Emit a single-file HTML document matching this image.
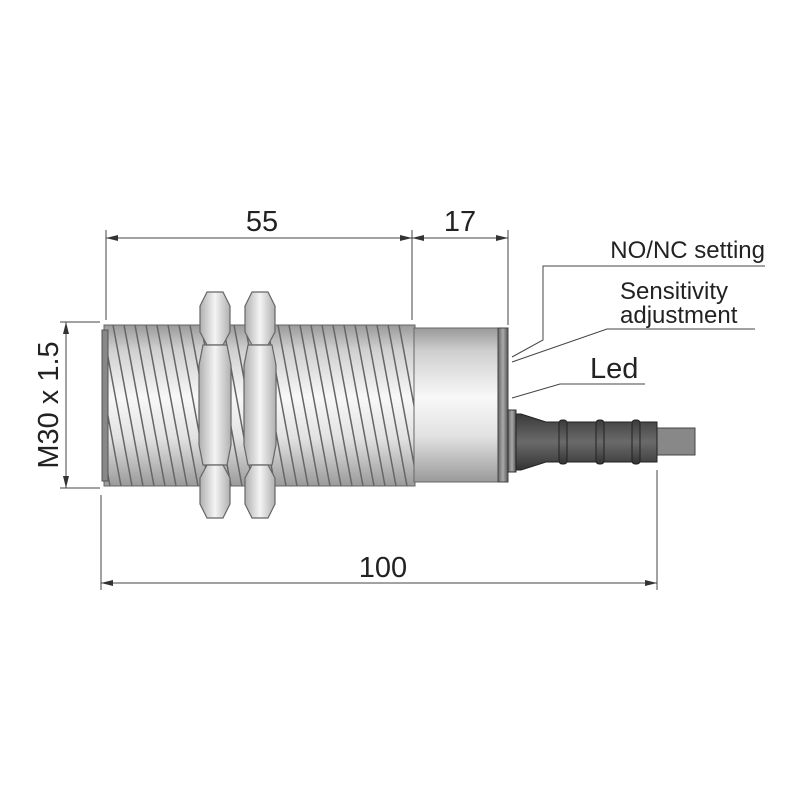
<!DOCTYPE html>
<html><head><style>body{margin:0;background:#fff}svg{display:block}</style></head><body>
<svg width="800" height="800" viewBox="0 0 800 800" xmlns="http://www.w3.org/2000/svg" font-family="Liberation Sans, sans-serif">
<defs>
<linearGradient id="cyl" x1="0" y1="0" x2="0" y2="1">
<stop offset="0" stop-color="#9a9a9a"/><stop offset="0.15" stop-color="#cfcfcf"/><stop offset="0.45" stop-color="#f8f8f8"/><stop offset="0.7" stop-color="#e2e2e2"/><stop offset="1" stop-color="#9a9a9a"/>
</linearGradient>
<linearGradient id="nut" x1="0" y1="0" x2="1" y2="0">
<stop offset="0" stop-color="#b0b0b0"/><stop offset="0.5" stop-color="#f4f4f4"/><stop offset="1" stop-color="#b0b0b0"/>
</linearGradient>
<linearGradient id="dark" x1="0" y1="0" x2="0" y2="1">
<stop offset="0" stop-color="#3a3a3a"/><stop offset="0.5" stop-color="#6a6a6a"/><stop offset="1" stop-color="#333"/>
</linearGradient>
<linearGradient id="ring" x1="0" y1="0" x2="1" y2="0">
<stop offset="0" stop-color="#666"/><stop offset="0.5" stop-color="#aaa"/><stop offset="1" stop-color="#555"/>
</linearGradient>
<clipPath id="thr"><rect x="104" y="325" width="311" height="161"/></clipPath>
</defs>
<rect x="104" y="325" width="311" height="161" fill="url(#cyl)" stroke="#666" stroke-width="1"/>
<g clip-path="url(#thr)" stroke="#666" stroke-width="1.5">
<path d="M80 325 l30 161 M91 325 l30 161 M102 325 l30 161 M113 325 l30 161 M124 325 l30 161 M135 325 l30 161 M146 325 l30 161 M157 325 l30 161 M168 325 l30 161 M179 325 l30 161 M190 325 l30 161 M201 325 l30 161 M212 325 l30 161 M223 325 l30 161 M234 325 l30 161 M245 325 l30 161 M256 325 l30 161 M267 325 l30 161 M278 325 l30 161 M289 325 l30 161 M300 325 l30 161 M311 325 l30 161 M322 325 l30 161 M333 325 l30 161 M344 325 l30 161 M355 325 l30 161 M366 325 l30 161 M377 325 l30 161 M388 325 l30 161 M399 325 l30 161"/>
</g>
<rect x="102" y="330" width="6" height="151" fill="#888" stroke="#555"/>
<g stroke="#666" stroke-width="1.2" fill="url(#nut)">
<path d="M207 292 h16 l7 14 v26 l-7 13 h-16 l-7 -13 v-26z"/>
<path d="M203 345 h24 l4 20 v80 l-4 20 h-24 l-4 -20 v-80z"/>
<path d="M207 465 h16 l7 13 v26 l-7 14 h-16 l-7 -14 v-26z"/>
<path d="M252 292 h16 l7 14 v26 l-7 13 h-16 l-7 -13 v-26z"/>
<path d="M248 345 h24 l4 20 v80 l-4 20 h-24 l-4 -20 v-80z"/>
<path d="M252 465 h16 l7 13 v26 l-7 14 h-16 l-7 -14 v-26z"/>
</g>
<rect x="414" y="328" width="86" height="154" fill="url(#cyl)" stroke="#666"/>
<rect x="498" y="328" width="10" height="154" fill="url(#ring)" stroke="#444"/>
<rect x="657" y="428" width="38" height="27" fill="#888" stroke="#444"/>
<path d="M508 410 h8 v62 h-8z" fill="url(#ring)" stroke="#333"/>
<path d="M516 414 h5 l25 8 h111 v40 h-111 l-25 8 h-5z" fill="url(#dark)" stroke="#222"/>
<rect x="559" y="420" width="8" height="44" rx="3" fill="url(#dark)" stroke="#222"/>
<rect x="596" y="420" width="8" height="44" rx="3" fill="url(#dark)" stroke="#222"/>
<rect x="632" y="420" width="8" height="44" rx="3" fill="url(#dark)" stroke="#222"/>
<g stroke="#444" stroke-width="1" fill="none">
<path d="M106 230 V320 M412 230 V320 M508 230 V325"/>
<path d="M106 238 H508"/>
<path d="M101 495 V590 M657 470 V590 M101 583 H657"/>
<path d="M60 322 H100 M60 488 H100 M66 322 V488"/>
<path d="M765 266 H543 V340 L512 357"/>
<path d="M755 329 H607 L512 362"/>
<path d="M645 384 H560 L512 398"/>
</g>
<g fill="#333">
<path d="M106 238 l12 -3 v6z M412 238 l-12 -3 v6z M412 238 l12 -3 v6z M508 238 l-12 -3 v6z"/>
<path d="M101 583 l12 -3 v6z M657 583 l-12 -3 v6z"/>
<path d="M66 322 l-3 12 h6z M66 488 l-3 -12 h6z"/>
</g>
<g fill="#222">
<text x="262" y="231" font-size="29" text-anchor="middle">55</text>
<text x="460" y="231" font-size="29" text-anchor="middle">17</text>
<text x="383" y="577" font-size="29" text-anchor="middle">100</text>
<text transform="translate(58 405) rotate(-90)" font-size="29" text-anchor="middle">M30 x 1.5</text>
<text x="765" y="258" font-size="24" text-anchor="end">NO/NC setting</text>
<text x="620" y="299" font-size="24">Sensitivity</text>
<text x="620" y="323" font-size="24">adjustment</text>
<text x="590" y="378" font-size="29">Led</text>
</g>
</svg>
</body></html>
